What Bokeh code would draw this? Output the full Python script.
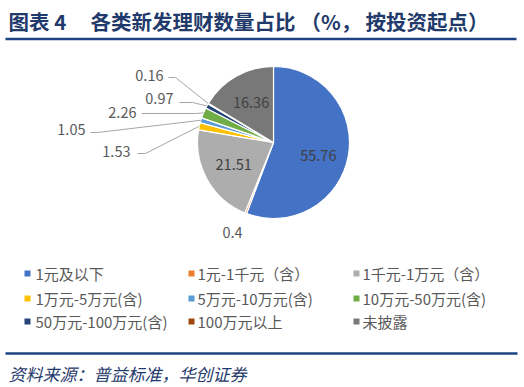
import math
from bokeh.plotting import figure
from bokeh.models import Range1d, ColumnDataSource
from bokeh.core.properties import value
from bokeh.embed import file_html
from bokeh.resources import INLINE

# ---------------- data ----------------
categories = ["1元及以下", "1元-1千元（含）", "1千元-1万元（含）",
              "1万元-5万元(含)", "5万元-10万元(含)", "10万元-50万元(含)",
              "50万元-100万元(含)", "100万元以上", "未披露"]
shares = [55.76, 0.4, 21.51, 1.53, 1.05, 2.26, 0.97, 0.16, 16.36]
colors = ["#4472C4", "#ED7D31", "#ADADAD", "#FFC000", "#5B9BD5",
          "#70AD47", "#264478", "#9E480E", "#787878"]
title_parts = ["图表 4", "各类新发理财数量占比", "（%，", "按投资起点）"]
source_note = "资料来源：普益标准，华创证券"

# ---------------- layout ----------------
W, H = 524, 387
FONT = "Noto Sans CJK SC"
NAVY = "#1F3A6B"
RULE = "#1D4383"


def sx(x):  # picture pixel -> data x
    return x


def sy(y):  # picture pixel -> data y
    return H - y


p = figure(width=W, height=H, x_range=Range1d(0, W), y_range=Range1d(0, H),
           x_axis_type=None, y_axis_type=None, toolbar_location=None,
           output_backend="svg", min_border=0, outline_line_color=None,
           background_fill_color="white", border_fill_color="white")
p.grid.visible = False

# title
title_x = [8, 90, 300, 365]
p.text(x=[sx(v) for v in title_x], y=[sy(20)] * 4, text=title_parts,
       text_font=value(FONT), text_font_size="20.5px", text_font_style="bold",
       text_color=NAVY, text_baseline="middle", text_align="left")
p.line(x=[sx(5), sx(516)], y=[sy(38.5), sy(38.5)], line_color=RULE, line_width=2.5)

# pie
cx, cy, R = sx(273), sy(142), 76
total = sum(shares)
cum = [0.0]
for v in shares:
    cum.append(cum[-1] + v)
start = [math.pi / 2 - 2 * math.pi * cum[i + 1] / total for i in range(len(shares))]
end = [math.pi / 2 - 2 * math.pi * cum[i] / total for i in range(len(shares))]
mid = [(a + b) / 2 for a, b in zip(start, end)]
src = ColumnDataSource(dict(start=start, end=end, color=colors, cat=categories, v=shares))
p.wedge(x=cx, y=cy, radius=R, start_angle="start", end_angle="end",
        fill_color="color", line_color="white", line_width=1.2, source=src)

# inside labels (large slices)
inside = [0, 2, 8]
p.text(x=[cx + 0.6 * R * math.cos(mid[i]) for i in inside],
       y=[cy + 0.6 * R * math.sin(mid[i]) - (5 if i == 0 else 0) for i in inside],
       text=[f"{shares[i]:g}" for i in inside], text_font=value(FONT),
       text_font_size="14.5px", text_color="#404040",
       text_align="center", text_baseline="middle")

# outside labels with leader lines
# index: (text right x, text center y, line start x, line y, elbow x)
outside = {
    3: (130, 151, 137, 153, 145),
    4: (85, 129, 90, 132, 97),
    5: (136, 112, 141, 113, 195),
    6: (173, 98, 179, 102, 192),
    7: (163, 75, 168, 77, 175),
}
lx, ly, lt, mxs, mys = [], [], [], [], []
for i, (tx, ty, x0, y0, ex) in outside.items():
    lx.append(sx(tx))
    ly.append(sy(ty))
    lt.append(f"{shares[i]:g}")
    rx = cx + R * math.cos(mid[i])
    ry = cy + R * math.sin(mid[i])
    mxs.append([sx(x0), sx(ex), rx])
    mys.append([sy(y0), sy(y0), ry])
p.multi_line(xs=mxs, ys=mys, line_color="#A6A6A6", line_width=1)
p.text(x=lx, y=ly, text=lt, text_font=value(FONT), text_font_size="14.5px",
       text_color="#595959", text_align="right", text_baseline="middle")
# small orange slice label (no leader)
p.text(x=[sx(232)], y=[sy(232)], text=[f"{shares[1]:g}"], text_font=value(FONT),
       text_font_size="14.5px", text_color="#595959", text_align="center",
       text_baseline="middle")

# legend (3 columns)
col_sq = [27, 191, 356]
col_tx = [35, 197, 362]
row_y = [273, 298, 321]
lgx, lgy, ltx, lty = [], [], [], []
for k, name in enumerate(categories):
    r, c = divmod(k, 3)
    lgx.append(sx(col_sq[c]))
    lgy.append(sy(row_y[r]))
    ltx.append(sx(col_tx[c]))
    lty.append(sy(row_y[r]))
p.scatter(x=lgx, y=lgy, marker="square", size=6, fill_color=colors, line_color=None)
p.text(x=ltx, y=lty, text=categories, text_font=value(FONT), text_font_size="15px",
       text_color="#595959", text_align="left", text_baseline="middle")

# bottom rule and source
p.line(x=[sx(5), sx(517)], y=[sy(353), sy(353)], line_color=RULE, line_width=2.5)
p.text(x=[sx(8)], y=[sy(373)], text=[source_note], text_font=value(FONT),
       text_font_size="17px", text_font_style="italic", text_color=NAVY,
       text_align="left", text_baseline="middle")

open("out.html", "w").write(file_html(p, INLINE))
